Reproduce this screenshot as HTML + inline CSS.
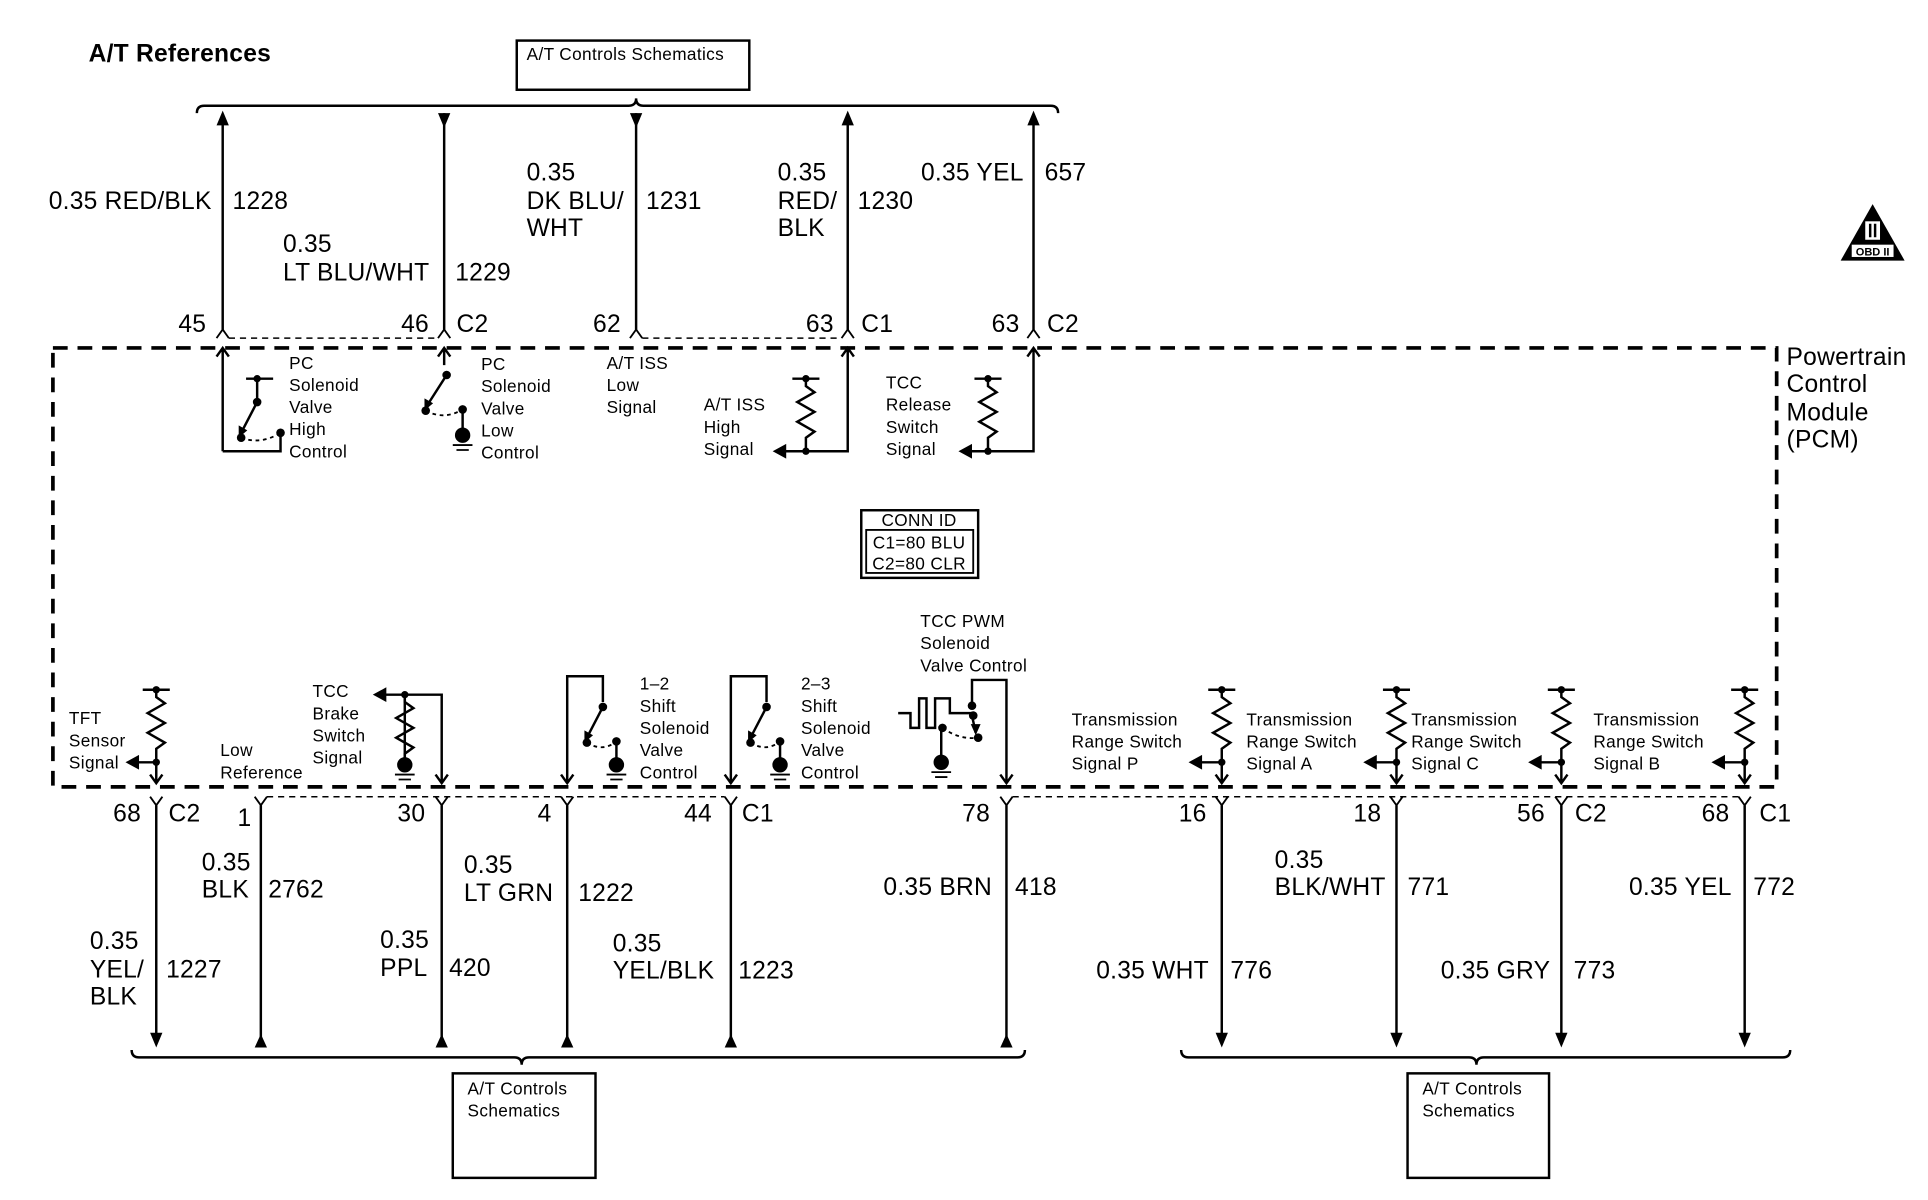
<!DOCTYPE html>
<html><head><meta charset="utf-8"><style>
html,body{margin:0;padding:0;background:#fff;}
svg{display:block;}
text{font-family:"Liberation Sans",sans-serif;fill:#000;}
.w{font-size:20px;letter-spacing:0.2px;}
.s{font-size:14px;letter-spacing:0.3px;}
</style></head><body>
<svg width="1928" height="1200" viewBox="0 0 1567 976" preserveAspectRatio="none" xmlns="http://www.w3.org/2000/svg">
<defs>
<g id="res" fill="none" stroke="#000" stroke-width="2">
<path d="M-11,0 H11 M0,0 V6 l7,5 l-14,8 l14,8 l-14,8 l14,8 l-7,5 V59"/>
<circle cx="0" cy="0" r="3" fill="#000" stroke="none"/>
<circle cx="0" cy="59" r="3" fill="#000" stroke="none"/>
</g>
<g id="gnd" stroke="#000" stroke-width="1.5">
<circle cx="0" cy="0" r="5.5" fill="#000"/>
<path d="M-8,8 H8 M-5,12 H5"/>
</g>
</defs>
<g stroke="#000" fill="none" stroke-width="2">
<path d="M160,92 Q160,86 166,86 H511 Q517,86 517,80 Q517,86 523,86 H854 Q860,86 860,92"/>
<rect x="420" y="33" width="189" height="40"/>
<path d="M181,96 V268 M361,92 V268 M517,92 V268 M689,96 V268 M840,96 V268"/>
<path d="M176,275 l5,-7 l5,7 M356,275 l5,-7 l5,7 M512,275 l5,-7 l5,7 M684,275 l5,-7 l5,7 M835,275 l5,-7 l5,7" stroke-width="1.5"/>
<path d="M186,275 H356 M522,275 H684" stroke-width="1.2" stroke-dasharray="5,4"/>
<rect x="43" y="283" width="1401" height="357" stroke-width="3" stroke-dasharray="12,8"/>
<path d="M181,367 V283 M176,290 l5,-7 l5,7 M181,367 H228 V352"/>
<path d="M200,308 H222 M209,308 V327 L196,352"/>
<path d="M196,356 Q212,362 228,352" stroke-dasharray="3,3" stroke-width="1.5"/>
<path d="M361,283 V297 M356,290 l5,-7 l5,7 M363,305 L347,330"/>
<path d="M346,334 Q361,342 376,333" stroke-dasharray="3,3" stroke-width="1.5"/>
<path d="M376,333 V352"/>
<path d="M689,283 V367 H636 M684,290 l5,-7 l5,7"/>
<path d="M840,283 V367 H786 M835,290 l5,-7 l5,7"/>
<rect x="700" y="415" width="95" height="55"/>
<rect x="704" y="431" width="87" height="35" stroke-width="1.5"/>
<path d="M127,620 V637 M108,620 H127 M122,630 l5,7 l5,-7"/>
<path d="M310,565 H359 V637 M354,630 l5,7 l5,-7 M329,565 V622"/>
<path d="M461,637 V550 H490 V571 M456,630 l5,7 l5,-7 M490,575 L477,600"/>
<path d="M477,604 Q490,612 501,603" stroke-dasharray="3,3" stroke-width="1.5"/>
<path d="M501,603 V622"/>
<path d="M594,637 V550 H623 V571 M589,630 l5,7 l5,-7 M623,575 L610,600"/>
<path d="M610,604 Q623,612 634,603" stroke-dasharray="3,3" stroke-width="1.5"/>
<path d="M634,603 V622"/>
<path d="M818,637 V553 H790 V574 M813,630 l5,7 l5,-7 M790,582 L793,596"/>
<path d="M730,580 H740 V592 H747 V568 H753 V592 H760 V568 H772 V580 H790"/>
<path d="M766,592 Q780,602 795,600" stroke-dasharray="3,3" stroke-width="1.5"/>
<path d="M765,592 V620"/>
<path d="M993,620 V637 M973,620 H993 M988,630 l5,7 l5,-7"/>
<path d="M1135,620 V637 M1115,620 H1135 M1130,630 l5,7 l5,-7"/>
<path d="M1269,620 V637 M1249,620 H1269 M1264,630 l5,7 l5,-7"/>
<path d="M1418,620 V637 M1398,620 H1418 M1413,630 l5,7 l5,-7"/>
<g stroke-width="1.5">
<path d="M122,648 l5,7 l5,-7 M207,648 l5,7 l5,-7 M354,648 l5,7 l5,-7 M456,648 l5,7 l5,-7 M589,648 l5,7 l5,-7 M813,648 l5,7 l5,-7 M988,648 l5,7 l5,-7 M1130,648 l5,7 l5,-7 M1264,648 l5,7 l5,-7 M1413,648 l5,7 l5,-7"/>
</g>
<path d="M217,648 H589 M823,648 H1413" stroke-width="1.2" stroke-dasharray="5,4"/>
<path d="M127,655 V845 M212,655 V845 M359,655 V845 M461,655 V845 M594,655 V845 M818,655 V845 M993,655 V845 M1135,655 V845 M1269,655 V845 M1418,655 V845"/>
<path d="M107,854 Q107,860 113,860 H418 Q424,860 424,866 Q424,860 430,860 H827 Q833,860 833,854"/>
<path d="M960,854 Q960,860 966,860 H1194 Q1200,860 1200,866 Q1200,860 1206,860 H1449 Q1455,860 1455,854"/>
<rect x="368" y="873" width="116" height="85"/>
<rect x="1144" y="873" width="115" height="85"/>
</g>
<g fill="#000">
<path d="M181,90 l-5,12 h10z M689,90 l-5,12 h10z M840,90 l-5,12 h10z M361,104 l-5,-12 h10z M517,104 l-5,-12 h10z"/>
<path d="M127,852 l-5,-12 h10z M993,852 l-5,-12 h10z M1135,852 l-5,-12 h10z M1269,852 l-5,-12 h10z M1418,852 l-5,-12 h10z"/>
<path d="M212,841 l-5,11 h10z M359,841 l-5,11 h10z M461,841 l-5,11 h10z M594,841 l-5,11 h10z M818,841 l-5,11 h10z"/>
<path d="M628,367 l11,-6 v12z M779,367 l11,-6 v12z M102,620 l11,-6 v12z M303,565 l11,-6 v12z M966,620 l11,-6 v12z M1108,620 l11,-6 v12z M1242,620 l11,-6 v12z M1391,620 l11,-6 v12z"/>
<path d="M194,356 l0,-10 l7,4z M345,334 l0,-10 l7,4z M475,604 l0,-10 l7,4z M608,604 l0,-10 l7,4z M793,598 l-4,-9 l8,0z"/>
<circle cx="209" cy="308" r="3"/><circle cx="209" cy="327" r="3.5"/><circle cx="196" cy="356" r="3.5"/><circle cx="228" cy="352" r="3.5"/>
<circle cx="363" cy="305" r="3.5"/><circle cx="346" cy="334" r="3.5"/><circle cx="376" cy="333" r="3.5"/>
<circle cx="490" cy="575" r="3.5"/><circle cx="477" cy="604" r="3.5"/><circle cx="501" cy="603" r="3.5"/>
<circle cx="623" cy="575" r="3.5"/><circle cx="610" cy="604" r="3.5"/><circle cx="634" cy="603" r="3.5"/>
<circle cx="790" cy="574" r="3.5"/><circle cx="791" cy="582" r="3.5"/><circle cx="795" cy="600" r="3.5"/><circle cx="766" cy="592" r="3.5"/>
<circle cx="329" cy="565" r="3"/>
<path d="M1522,166 L1496,212 L1548,212z"/>
</g>
<rect x="1505" y="199" width="34" height="10" fill="#fff"/>
<text x="1522" y="208" font-size="9" font-weight="bold" text-anchor="middle">OBD II</text>
<rect x="1516" y="180" width="12" height="15" fill="#fff"/>
<path d="M1520,182 V193 M1524,182 V193" stroke="#000" stroke-width="2"/>
<use href="#res" x="655" y="308"/>
<use href="#res" x="803" y="308"/>
<use href="#res" x="127" y="561"/>
<use href="#res" x="993" y="561"/>
<use href="#res" x="1135" y="561"/>
<use href="#res" x="1269" y="561"/>
<use href="#res" x="1418" y="561"/>
<g fill="none" stroke="#000" stroke-width="2"><path d="M329,565 V571 l7,5 l-14,8 l14,8 l-14,8 l14,8 l-7,5 V622"/></g>
<use href="#gnd" x="376" y="354"/>
<use href="#gnd" x="329" y="622"/>
<use href="#gnd" x="501" y="622"/>
<use href="#gnd" x="634" y="622"/>
<use href="#gnd" x="765" y="620"/>

<text x="72" y="50" font-size="20" font-weight="bold" letter-spacing="0.2">A/T References</text>
<text x="428" y="49" class="s" letter-spacing="-0.3">A/T Controls Schematics</text>
<g class="w">
<text x="172" y="170" text-anchor="end">0.35 RED/BLK</text><text x="189" y="170">1228</text>
<text x="230" y="205">0.35</text><text x="230" y="228">LT BLU/WHT</text><text x="370" y="228">1229</text>
<text x="428" y="147">0.35</text><text x="428" y="170">DK BLU/</text><text x="428" y="192">WHT</text><text x="525" y="170">1231</text>
<text x="632" y="147">0.35</text><text x="632" y="170">RED/</text><text x="632" y="192">BLK</text><text x="697" y="170">1230</text>
<text x="832" y="147" text-anchor="end">0.35 YEL</text><text x="849" y="147">657</text>
<text x="145" y="270">45</text><text x="326" y="270">46</text><text x="371" y="270">C2</text>
<text x="482" y="270">62</text><text x="655" y="270">63</text><text x="700" y="270">C1</text>
<text x="806" y="270">63</text><text x="851" y="270">C2</text>
<text x="1452" y="297">Powertrain</text><text x="1452" y="319">Control</text><text x="1452" y="342">Module</text><text x="1452" y="364">(PCM)</text>
<text x="92" y="668">68</text><text x="137" y="668">C2</text>
<text x="193" y="672">1</text><text x="323" y="668">30</text><text x="437" y="668">4</text>
<text x="556" y="668">44</text><text x="603" y="668">C1</text><text x="782" y="668">78</text>
<text x="958" y="668">16</text><text x="1100" y="668">18</text><text x="1233" y="668">56</text><text x="1280" y="668">C2</text>
<text x="1383" y="668">68</text><text x="1430" y="668">C1</text>
<text x="73" y="772">0.35</text><text x="73" y="795">YEL/</text><text x="73" y="817">BLK</text><text x="135" y="795">1227</text>
<text x="164" y="708">0.35</text><text x="164" y="730">BLK</text><text x="218" y="730">2762</text>
<text x="309" y="771">0.35</text><text x="309" y="794">PPL</text><text x="365" y="794">420</text>
<text x="377" y="710">0.35</text><text x="377" y="733">LT GRN</text><text x="470" y="733">1222</text>
<text x="498" y="774">0.35</text><text x="498" y="796">YEL/BLK</text><text x="600" y="796">1223</text>
<text x="718" y="728">0.35 BRN</text><text x="825" y="728">418</text>
<text x="891" y="796">0.35 WHT</text><text x="1000" y="796">776</text>
<text x="1036" y="706">0.35</text><text x="1036" y="728">BLK/WHT</text><text x="1144" y="728">771</text>
<text x="1171" y="796">0.35 GRY</text><text x="1279" y="796">773</text>
<text x="1324" y="728">0.35 YEL</text><text x="1425" y="728">772</text>
</g>
<g class="s">
<text x="235" y="300">PC</text><text x="235" y="318">Solenoid</text><text x="235" y="336">Valve</text><text x="235" y="354">High</text><text x="235" y="372">Control</text>
<text x="391" y="301">PC</text><text x="391" y="319">Solenoid</text><text x="391" y="337">Valve</text><text x="391" y="355">Low</text><text x="391" y="373">Control</text>
<text x="493" y="300">A/T ISS</text><text x="493" y="318">Low</text><text x="493" y="336">Signal</text>
<text x="572" y="334">A/T ISS</text><text x="572" y="352">High</text><text x="572" y="370">Signal</text>
<text x="720" y="316">TCC</text><text x="720" y="334">Release</text><text x="720" y="352">Switch</text><text x="720" y="370">Signal</text>
<text x="747" y="428" text-anchor="middle">CONN ID</text>
<text x="747" y="446" text-anchor="middle">C1=80 BLU</text>
<text x="747" y="463" text-anchor="middle">C2=80 CLR</text>
<text x="56" y="589">TFT</text><text x="56" y="607">Sensor</text><text x="56" y="625">Signal</text>
<text x="179" y="615">Low</text><text x="179" y="633">Reference</text>
<text x="254" y="567">TCC</text><text x="254" y="585">Brake</text><text x="254" y="603">Switch</text><text x="254" y="621">Signal</text>
<text x="520" y="561">1–2</text><text x="520" y="579">Shift</text><text x="520" y="597">Solenoid</text><text x="520" y="615">Valve</text><text x="520" y="633">Control</text>
<text x="651" y="561">2–3</text><text x="651" y="579">Shift</text><text x="651" y="597">Solenoid</text><text x="651" y="615">Valve</text><text x="651" y="633">Control</text>
<text x="748" y="510">TCC PWM</text><text x="748" y="528">Solenoid</text><text x="748" y="546">Valve Control</text>
<text x="871" y="590">Transmission</text><text x="871" y="608">Range Switch</text><text x="871" y="626">Signal P</text>
<text x="1013" y="590">Transmission</text><text x="1013" y="608">Range Switch</text><text x="1013" y="626">Signal A</text>
<text x="1147" y="590">Transmission</text><text x="1147" y="608">Range Switch</text><text x="1147" y="626">Signal C</text>
<text x="1295" y="590">Transmission</text><text x="1295" y="608">Range Switch</text><text x="1295" y="626">Signal B</text>
<text x="380" y="890">A/T Controls</text><text x="380" y="908">Schematics</text>
<text x="1156" y="890">A/T Controls</text><text x="1156" y="908">Schematics</text>
</g>
</svg>
</body></html>
